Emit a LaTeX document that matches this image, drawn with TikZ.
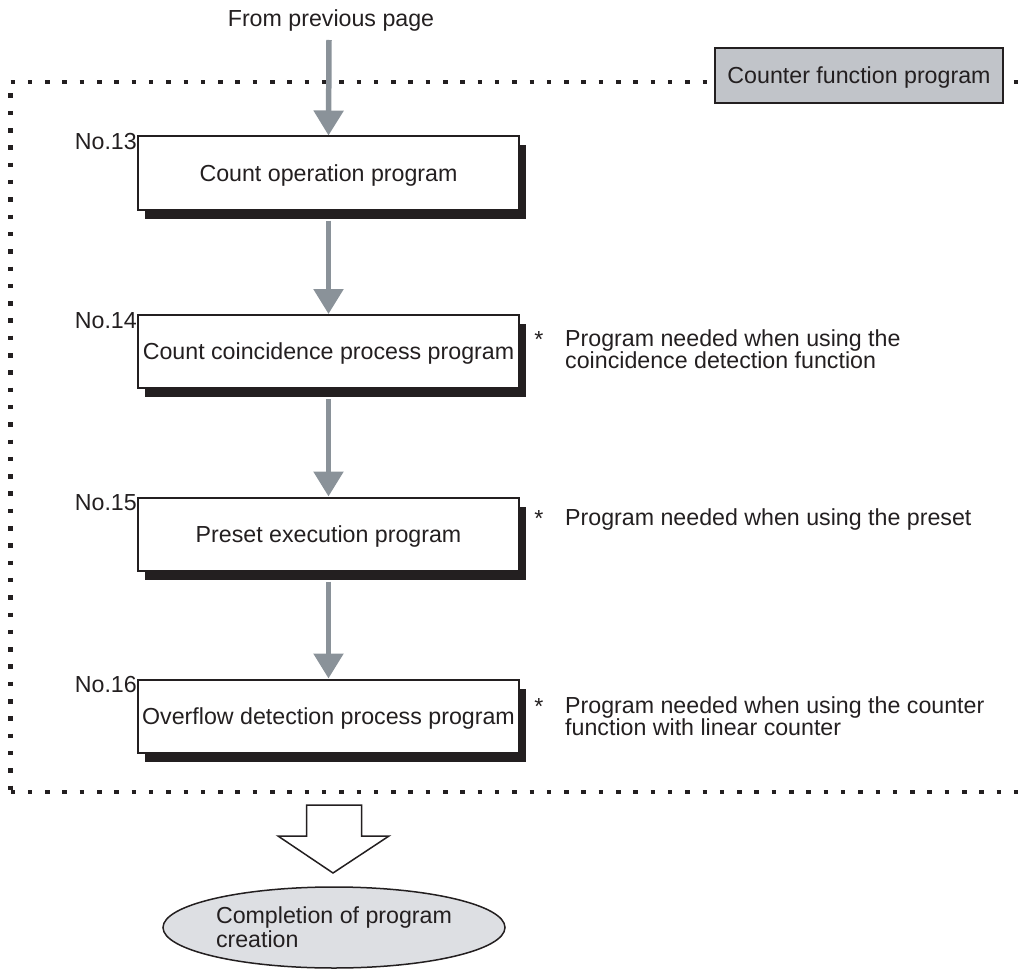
\documentclass[tikz,border=0pt]{standalone}
\usepackage{fontspec}
\setmainfont{Liberation Sans}
\usetikzlibrary{arrows.meta,shadows,shapes.geometric}
\definecolor{ink}{HTML}{231F20}
\definecolor{arrowgray}{HTML}{8A9299}
\definecolor{labelgray}{HTML}{C1C4C9}
\definecolor{ellgray}{HTML}{DDDFE3}
\begin{document}
\begin{tikzpicture}[x=1pt,y=-1pt,
  every node/.style={font=\fontsize{23.2}{21}\selectfont, text=ink, inner sep=0pt},
  captext/.style={text height=16.6pt, text depth=0pt},
  progbox/.style={captext, draw=ink, line width=2pt, fill=white,
    minimum width=381pt, minimum height=73pt,
    drop shadow={shadow xshift=7pt, shadow yshift=-9pt, fill=ink, opacity=1}},
  labelbox/.style={captext, draw=ink, line width=2pt, fill=labelgray,
    minimum width=288pt, minimum height=55pt},
  numlabel/.style={anchor=base east},
  star/.style={anchor=center},
  note/.style={anchor=north west, align=left},
  flow/.style={draw=arrowgray, line width=5.5pt, -{Triangle[width=29pt,length=25pt]}},
  dotline/.style={draw=ink, line width=4.5pt, dash pattern=on 4.5pt off 12.8pt},
  hollow/.style={draw=ink, line width=1.5pt, fill=white, line join=miter},
  endnode/.style={ellipse, draw=ink, line width=1.5pt, fill=ellgray,
    minimum width=342pt, minimum height=81pt, align=left,
    font=\fontsize{23.2}{24}\selectfont}
]
\useasboundingbox (0,0) rectangle (1026,971);

% dotted frame
\draw[dotline] (10.5,82) -- (1030,82);
\draw[dotline] (10.7,93.5) -- (10.7,795);
\draw[dotline] (10.5,792) -- (1030,792);

\node[labelbox] (lbl) at (859,75.5) {Counter function program};

\node[captext] (src) at (331,18) {From previous page};
\coordinate (srcend) at (329,40);

\node[progbox] (b1) at (328.5,173) {Count operation program};
\node[progbox] (b2) at (328.5,351.5) {Count coincidence process program};
\node[progbox] (b3) at (328.5,534) {Preset execution program};
\node[progbox] (b4) at (328.5,716) {Overflow detection process program};

\node[numlabel] (n13) at ([yshift=-14pt]b1.north west) {No.13};
\node[numlabel] (n14) at ([yshift=-14pt]b2.north west) {No.14};
\node[numlabel] (n15) at ([yshift=-14pt]b3.north west) {No.15};
\node[numlabel] (n16) at ([yshift=-14pt]b4.north west) {No.16};

\draw[flow] (srcend) -- (b1.north);
\draw[flow] ([yshift=-10pt]b1.south) -- (b2.north);
\draw[flow] ([yshift=-10pt]b2.south) -- (b3.north);
\draw[flow] ([yshift=-10pt]b3.south) -- (b4.north);

\node[star] (s2) at (539,339.5) {*};
\node[note] (t2) at (565,329) {Program needed when using the\\coincidence detection function};
\node[star] (s3) at (539,518.5) {*};
\node[note] (t3) at (565,508) {Program needed when using the preset};
\node[star] (s4) at (539,706.5) {*};
\node[note] (t4) at (565,696) {Program needed when using the counter\\function with linear counter};

\draw[hollow] (306.7,805) -- (361.7,805) -- (361.7,836) -- (389,836) -- (333,873)
  -- (278,836) -- (306.7,836) -- cycle;

\node[endnode] (end) at (334,927.5) {Completion of program\\creation};
\end{tikzpicture}
\end{document}
